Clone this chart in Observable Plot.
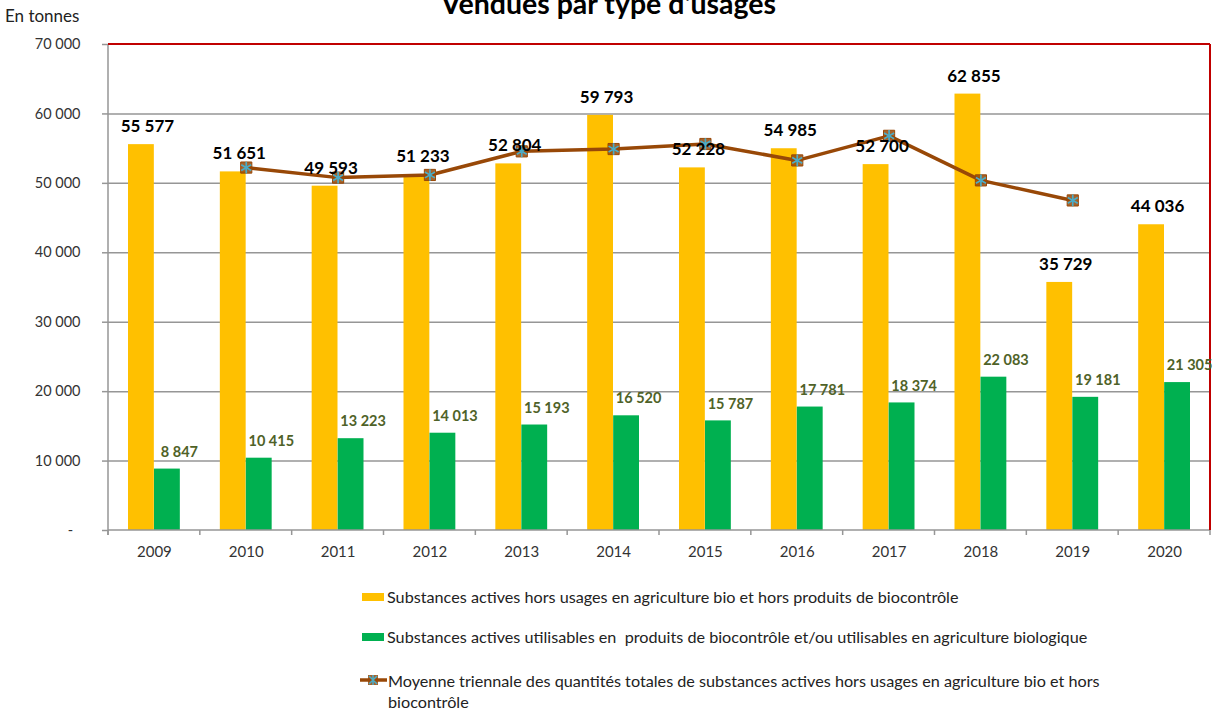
<!DOCTYPE html>
<html>
<head>
<meta charset="utf-8">
<script src="https://cdn.jsdelivr.net/npm/d3@7"></script>
<script src="https://cdn.jsdelivr.net/npm/@observablehq/plot@0.6"></script>
<style>
  body { margin: 0; background: #fff; font-family: Lato, "Noto Sans", sans-serif; color: #222; }
  #wrap { width: 1217px; }
  #header { position: relative; width: 1217px; height: 22px; }
  #clip { position: absolute; left: 0; top: 0; width: 1217px; height: 22px; overflow: hidden; }
  #unit { position: absolute; left: 5px; top: 6px; font-size: 17px; line-height: 20px; color: #222; z-index: 2; }
  #title { position: absolute; left: 0; width: 1217px; top: -11px; text-align: center; font-weight: bold; font-size: 28.5px; line-height: 28px; color: #000; }
  #legend { padding-top: 6px; margin-left: 362px; font-size: 16.2px; color: #222; }
  .row { display: flex; align-items: center; line-height: 18px; white-space: nowrap; }
  .row .sw { width: 22px; height: 8px; margin-right: 3px; flex: none; }
  .row2 { margin-top: 22px; }
  .row3 { margin-top: 24px; line-height: 21px; align-items: flex-start; }
  .row3 svg { flex: none; margin-right: 1px; margin-top: 4px; margin-left: -2px; }
</style>
</head>
<body>
<div id="wrap">
  <div id="header">
    <div id="clip"><div id="title">Vendues par type d'usages</div></div>
    <div id="unit">En tonnes</div>
  </div>
  <div id="chart"></div>
  <div id="legend"></div>
</div>
<script>
const years = ["2009","2010","2011","2012","2013","2014","2015","2016","2017","2018","2019","2020"];
const horsBio = [55577, 51651, 49593, 51233, 52804, 59793, 52228, 54985, 52700, 62855, 35729, 44036];
const biocontrole = [8847, 10415, 13223, 14013, 15193, 16520, 15787, 17781, 18374, 22083, 19181, 21305];
const moyenneYears = ["2010","2011","2012","2013","2014","2015","2016","2017","2018","2019"];
const moyenne = [52274, 50826, 51210, 54610, 54942, 55669, 53304, 56847, 50428, 47540];
const yTicks = [0, 10000, 20000, 30000, 40000, 50000, 60000, 70000];
const legendLabels = [
  "Substances actives hors usages en agriculture bio et hors produits de biocontrôle",
  "Substances actives utilisables en&nbsp; produits de biocontrôle et/ou utilisables en agriculture biologique",
  "Moyenne triennale des quantités totales de substances actives hors usages en agriculture bio et hors<br>biocontrôle"
];

const YELLOW = "#ffc000", GREEN = "#00b050", BROWN = "#984807", TEAL = "#4bacc6", RED = "#c00000", GRAY = "#969696";

const bars = years.map((y, i) => ({year: y, a: horsBio[i], b: biocontrole[i]}));
const line = moyenneYears.map((y, i) => ({year: y, v: moyenne[i]}));
const fmt = d => d3.format(",")(d).replace(/,/g, " ");

const decor = (index, scales, values, dims) => {
  const x = scales.x, y = scales.y;
  const bw = typeof x.bandwidth === "function" ? x.bandwidth() : x.bandwidth;
  const g = d3.create("svg:g");
  const yb = y(0), yt = y(70000);
  const xl = dims.marginLeft, xr = dims.width - dims.marginRight;
  g.append("line").attr("x1", xl).attr("x2", xr).attr("y1", yb).attr("y2", yb).attr("stroke", GRAY).attr("stroke-width", 1.5);
  const edges = years.map(d => x(d)).concat([x(years[years.length - 1]) + bw]);
  for (const e of edges) {
    g.append("line").attr("x1", e).attr("x2", e).attr("y1", yb).attr("y2", yb + 5).attr("stroke", GRAY).attr("stroke-width", 1.5);
  }
  g.append("line").attr("x1", xl).attr("x2", xl).attr("y1", yt).attr("y2", yb + 5).attr("stroke", GRAY).attr("stroke-width", 1.5);
  g.append("line").attr("x1", xl).attr("x2", xr).attr("y1", yt).attr("y2", yt).attr("stroke", RED).attr("stroke-width", 2);
  g.append("line").attr("x1", xr).attr("x2", xr).attr("y1", yt).attr("y2", yb).attr("stroke", RED).attr("stroke-width", 2);
  return g.node();
};

const chart = Plot.plot({
  width: 1217,
  height: 560,
  marginTop: 22,
  marginBottom: 52,
  marginLeft: 108,
  marginRight: 7,
  style: {fontFamily: "Lato, 'Noto Sans', sans-serif", overflow: "visible", background: "#fff"},
  x: {type: "band", domain: years, padding: 0, round: false},
  y: {domain: [0, 70000]},
  marks: [
    Plot.gridY(yTicks.filter(t => t > 0 && t < 70000), {stroke: GRAY, strokeOpacity: 1, strokeWidth: 1.5}),
    Plot.barY(bars, {x: "year", y: "a", fill: YELLOW, insetLeft: 20, insetRight: 46}),
    Plot.barY(bars, {x: "year", y: "b", fill: GREEN, insetLeft: 46, insetRight: 20}),
    Plot.axisY({ticks: yTicks, tickSize: 6, tickPadding: 22, fontSize: 14.5, stroke: GRAY, strokeWidth: 1.5, fill: "#333",
      tickFormat: d => d === 0 ? "-\u2002" : fmt(d), label: null}),
    Plot.axisX({tickSize: 0, tickPadding: 16, fontSize: 15, fill: "#333", label: null}),
    decor,
    Plot.line(line, {x: "year", y: "v", stroke: BROWN, strokeWidth: 3.5}),
    Plot.dot(line, {x: "year", y: "v", symbol: "square", r: 6.3, fill: BROWN, fillOpacity: 0.85, stroke: BROWN, strokeWidth: 1}),
    Plot.dot(line, {x: "year", y: "v", symbol: "asterisk", r: 5.5, stroke: TEAL, strokeWidth: 1.7}),
    Plot.text(bars, {x: "year", y: "a", text: d => fmt(d.a), dx: -7, dy: -18, fontSize: 17, fontWeight: "bold", fill: "#000"}),
    Plot.text(bars, {x: "year", y: "b", text: d => fmt(d.b), dx: 25, dy: -17, fontSize: 14.5, fontWeight: "bold", fill: "#4f6228"})
  ]
});
document.getElementById("chart").appendChild(chart);

const lg = document.getElementById("legend");
lg.innerHTML = `
  <div class="row"><span class="sw" style="background:${YELLOW}"></span><span>${legendLabels[0]}</span></div>
  <div class="row row2"><span class="sw" style="background:${GREEN}"></span><span>${legendLabels[1]}</span></div>
  <div class="row row3"><svg width="27" height="12" viewBox="0 0 27 12">
      <line x1="0" x2="27" y1="6" y2="6" stroke="${BROWN}" stroke-width="3.5"/>
      <rect x="8" y="1" width="10" height="10" fill="${BROWN}" fill-opacity="0.85"/>
      <path d="M9,2L17,10M17,2L9,10M13,1L13,11" stroke="${TEAL}" stroke-width="1.5"/>
    </svg><span>${legendLabels[2]}</span></div>`;
</script>
</body>
</html>
